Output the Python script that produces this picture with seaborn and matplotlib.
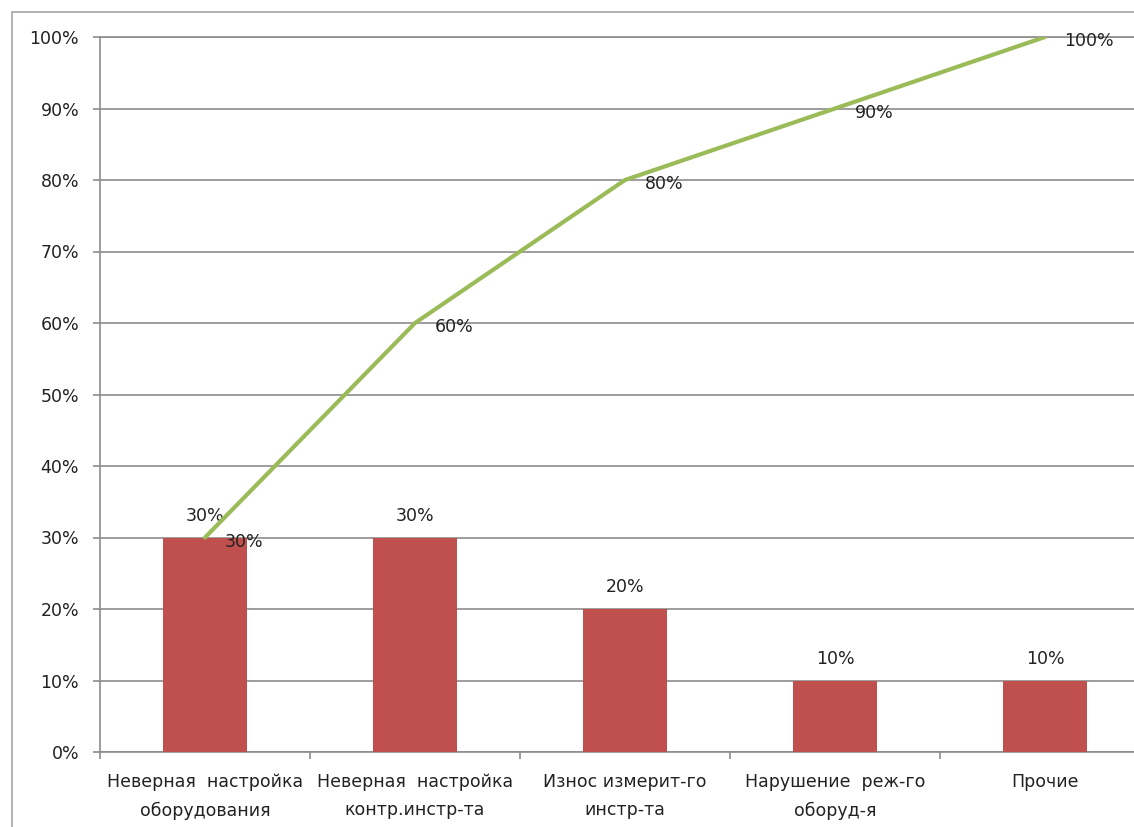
import matplotlib
matplotlib.use("Agg")
import matplotlib.pyplot as plt
import seaborn as sns
import numpy as np
import pandas as pd
from matplotlib.ticker import PercentFormatter, FixedLocator, MultipleLocator
from matplotlib.lines import Line2D

categories = ["Неверная  настройка\nоборудования",
              "Неверная  настройка\nконтр.инстр-та",
              "Износ измерит-го\nинстр-та",
              "Нарушение  реж-го\nоборуд-я",
              "Прочие"]
shares = [30, 30, 20, 10, 10]
cumulative = [30, 60, 80, 90, 100]

sns.set_style("white")
plt.rcParams['font.family'] = ['DejaVu Sans']

W, H = 1134, 827
fig = plt.figure(figsize=(W / 100, H / 100), dpi=100)
left, right, top, bottom = 100, 1150, 37, 752
ax = fig.add_axes([left / W, 1 - bottom / H, (right - left) / W, (bottom - top) / H])

grid_col = "#8c8c8c"
fs = 12.5
df = pd.DataFrame({"cat": categories, "share": shares})
sns.barplot(data=df, x="cat", y="share", color="#C0504D", saturation=1,
            width=0.4, ax=ax, zorder=3, edgecolor="none", linewidth=0)
for c in ax.containers:
    ax.bar_label(c, labels=[f"{v}%" for v in shares], padding=9, fontsize=fs, color="#222222")

xs = np.arange(len(categories))
sns.lineplot(x=xs, y=cumulative, color="#9BBB59", linewidth=3, ax=ax, zorder=4)
for x, v in zip(xs, cumulative):
    ax.annotate(f"{v}%", (x, v), xytext=(14, -3), textcoords="offset points",
                ha="left", va="center", fontsize=fs, color="#222222", zorder=5)

ax.set_ylim(0, 100)
ax.set_xlim(-0.5, len(categories) - 0.5)
ax.yaxis.set_major_locator(MultipleLocator(10))
ax.yaxis.set_major_formatter(PercentFormatter(xmax=100, decimals=0))
ax.grid(axis="y", color=grid_col, linewidth=1.2, zorder=0)
ax.set_axisbelow(True)
ax.set_xlabel("")
ax.set_ylabel("")

ax.spines["right"].set_visible(False)
for s in ["left", "bottom", "top"]:
    ax.spines[s].set_color(grid_col)
    ax.spines[s].set_linewidth(1.2)

ax.tick_params(axis="y", which="major", length=5, width=1.2, color=grid_col,
               pad=10, labelsize=fs, labelcolor="#222222", left=True)
ax.tick_params(axis="x", which="major", length=0, pad=15, labelsize=fs,
               labelcolor="#222222")
ax.xaxis.set_minor_locator(FixedLocator(np.arange(-0.5, len(categories), 1.0)))
ax.tick_params(axis="x", which="minor", length=5, width=1.2, color=grid_col, bottom=True)
for lab in ax.get_xticklabels():
    lab.set_linespacing(1.75)

# outer chart-area frame
fig.add_artist(Line2D([12 / W, 12 / W], [0, 1 - 12 / H], transform=fig.transFigure,
                      color="#a6a6a6", linewidth=1.2))
fig.add_artist(Line2D([12 / W, 1], [1 - 12 / H, 1 - 12 / H], transform=fig.transFigure,
                      color="#a6a6a6", linewidth=1.2))

fig.savefig("out.png", dpi=100)
